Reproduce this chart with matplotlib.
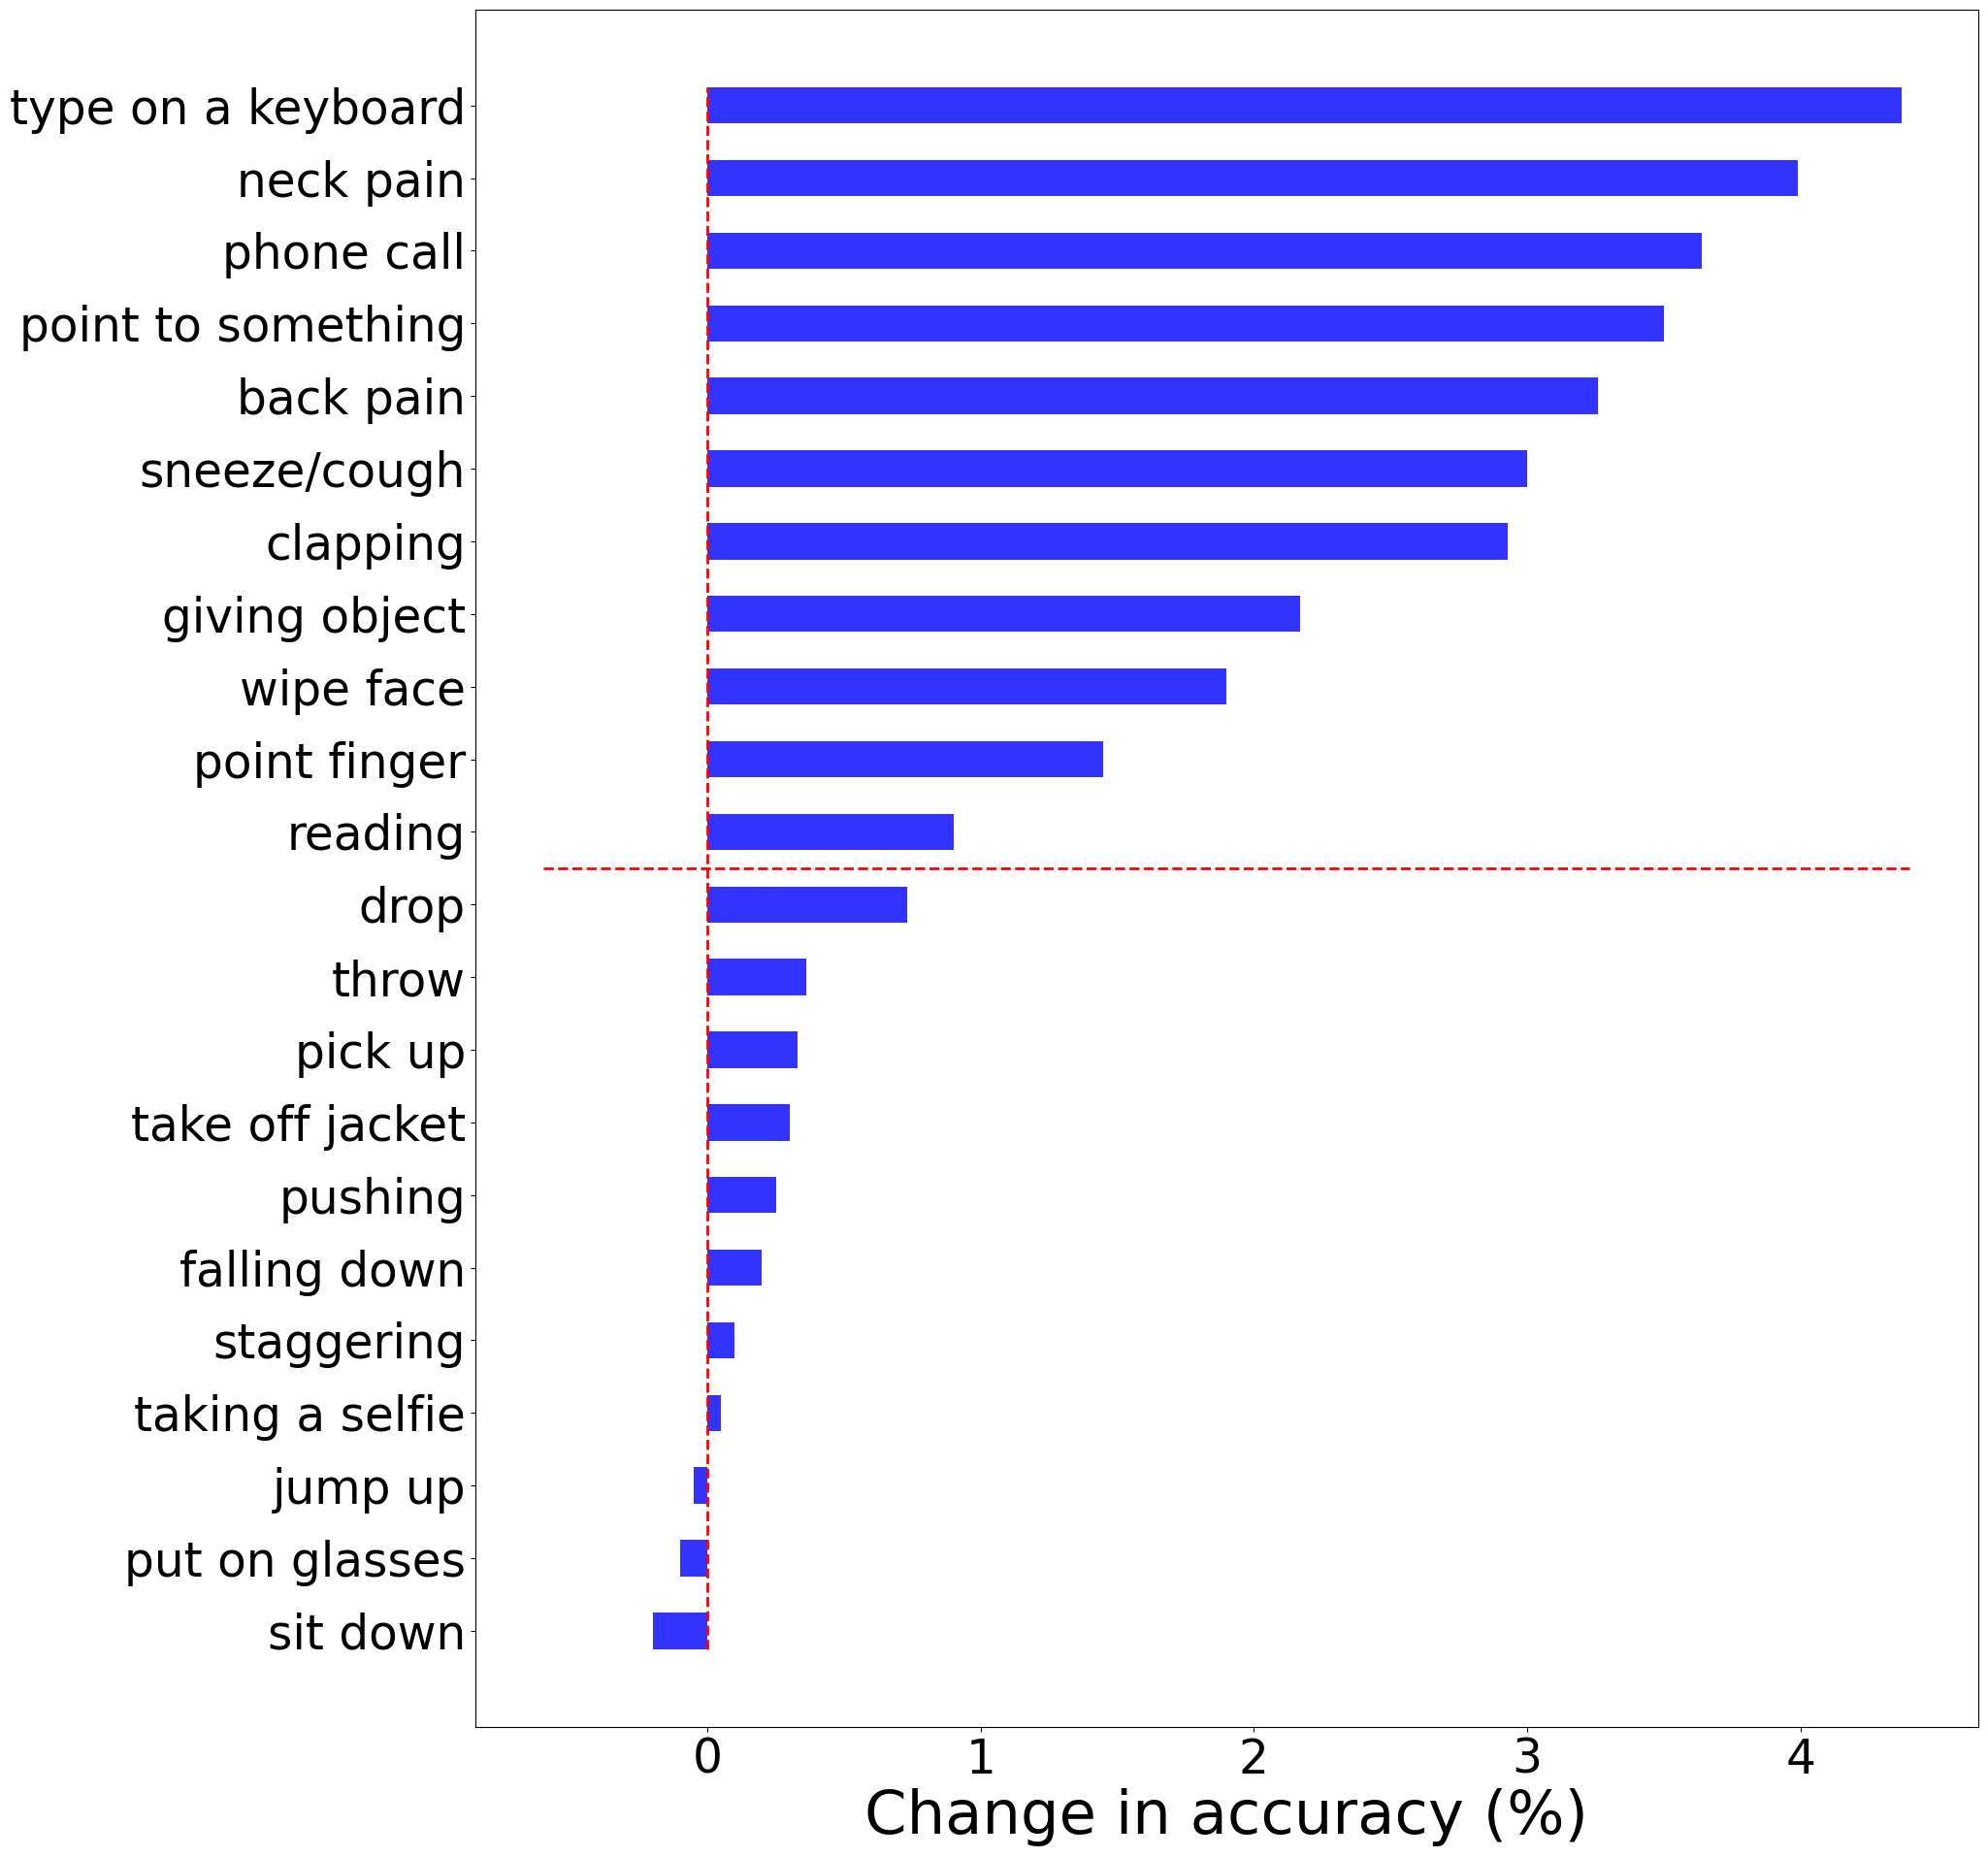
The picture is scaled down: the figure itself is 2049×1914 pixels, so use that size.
import matplotlib
matplotlib.use("Agg")
import matplotlib.pyplot as plt
import numpy as np

categories = ["type on a keyboard", "neck pain", "phone call", "point to something",
              "back pain", "sneeze/cough", "clapping", "giving object", "wipe face",
              "point finger", "reading", "drop", "throw", "pick up", "take off jacket",
              "pushing", "falling down", "staggering", "taking a selfie", "jump up",
              "put on glasses", "sit down"]
values = [4.37, 3.99, 3.64, 3.50, 3.26, 3.00, 2.93, 2.17, 1.90, 1.45, 0.90,
          0.73, 0.36, 0.33, 0.30, 0.25, 0.20, 0.10, 0.05, -0.05, -0.10, -0.20]

n = len(categories)
ypos = np.arange(n)[::-1]

fig = plt.figure(figsize=(20.49, 19.14), dpi=100)
ax = fig.add_axes([0.239, 0.07, 0.756, 0.925])
ax.barh(ypos, values, height=0.5, color="blue", alpha=0.8)
ax.vlines(0, -0.25, n - 0.75, colors="red", linestyles="--", linewidth=2)
ax.hlines(10.5, -0.6, 4.4, colors="red", linestyles="--", linewidth=2)
ax.set_yticks(ypos)
ax.set_yticklabels(categories, fontsize=35)
ax.tick_params(axis="x", labelsize=35)
ax.set_xlabel("Change in accuracy (%)", fontsize=45)
fig.savefig("out.png", dpi=100)
